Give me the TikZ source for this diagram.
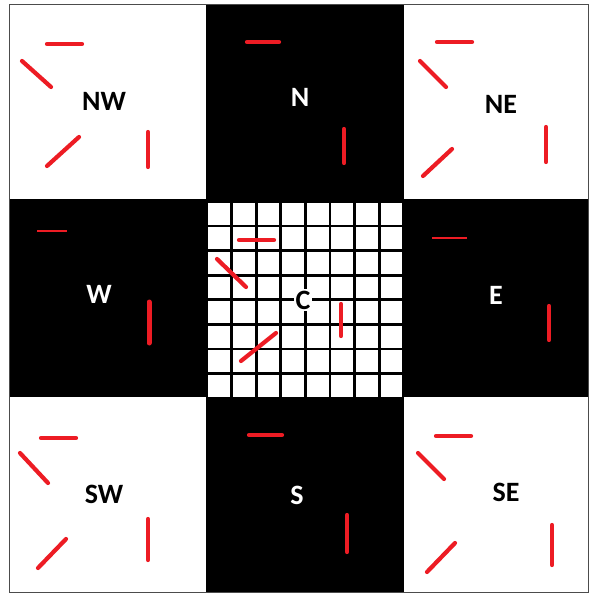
\documentclass[tikz,border=0pt]{standalone}
\usepackage{fontspec}
\setmainfont{Carlito}
\usetikzlibrary{positioning}
\definecolor{mkR}{RGB}{237,28,36}

\begin{document}
\begin{tikzpicture}[x=1pt,y=-1pt,
   lb/.style={font=\fontsize{28}{30}\selectfont\bfseries,inner sep=1pt},
   lbw/.style={lb,text=white},
   mk/.style={draw=mkR,line width=4.2pt,line cap=round},
   mkt/.style={draw=mkR,line width=2.6pt}]
\useasboundingbox (0,0) rectangle (589,593);
%% ---- board: black cross, white corners ----
\fill[black] (9,4) rectangle (588,592);
\fill[white] (9,4) rectangle (206,199);
\fill[white] (404,4) rectangle (588,199);
\fill[white] (9,397) rectangle (206,592);
\fill[white] (404,397) rectangle (588,592);
%% ---- centre grid, 8x8 cells ----
\foreach \i in {0,...,7}
  \foreach \j in {0,...,7}
    \fill[white] ({208.3+24.6*\i},{202.7+24.6*\j}) rectangle +(21.9,21.9);
\draw[gray!60!black,line width=0.8pt] (9,4) rectangle (588,592);
%% ---- labels ----
\node[lb] (NW) at (104,101) {NW};
\node[lbw] (N) at (300,97) {N};
\node[lb] (NE) at (501,104) {NE};
\node[lbw] (W) at (99,294) {W};
\node[lb,fill=white,inner sep=2pt] (C) at (303,300) {C};
\node[lbw] (E) at (496,295) {E};
\node[lb] (SW) at (104,494) {SW};
\node[lbw] (S) at (297,495) {S};
\node[lb] (SE) at (506,492) {SE};
%% ---- red marks ----
% NW
\draw[mk] (47,44)--(82,44);
\draw[mk] (22,61)--(51,87);
\draw[mk] (47,166)--(79,137);
\draw[mk] (148,132)--(148,167);
% N
\draw[mk] (247,42)--(279,42);
\draw[mk] (344,129)--(344,163);
% NE
\draw[mk] (437,42)--(472,42);
\draw[mk] (420,61)--(446,87);
\draw[mk] (423,176)--(452,149);
\draw[mk] (546,127)--(546,162);
% W
\draw[mkt] (37,231)--(67,231);
\draw[mk,line width=5pt] (149,302)--(149,343);
% C
\draw[mk] (239,240)--(274,240);
\draw[mk] (217,259)--(246,287);
\draw[mk] (241,361)--(276,333);
\draw[mk] (341,304)--(341,336);
% E
\draw[mkt] (432,238)--(467,238);
\draw[mk] (549,306)--(549,340);
% SW
\draw[mk] (41,438)--(76,438);
\draw[mk] (20,453)--(48,483);
\draw[mk] (38,568)--(66,539);
\draw[mk] (148,519)--(148,560);
% S
\draw[mk] (249,435)--(282,435);
\draw[mk] (347,515)--(347,552);
% SE
\draw[mk] (436,436)--(471,436);
\draw[mk] (418,453)--(444,479);
\draw[mk] (427,572)--(455,543);
\draw[mk] (552,525)--(552,565);
\end{tikzpicture}
\end{document}
